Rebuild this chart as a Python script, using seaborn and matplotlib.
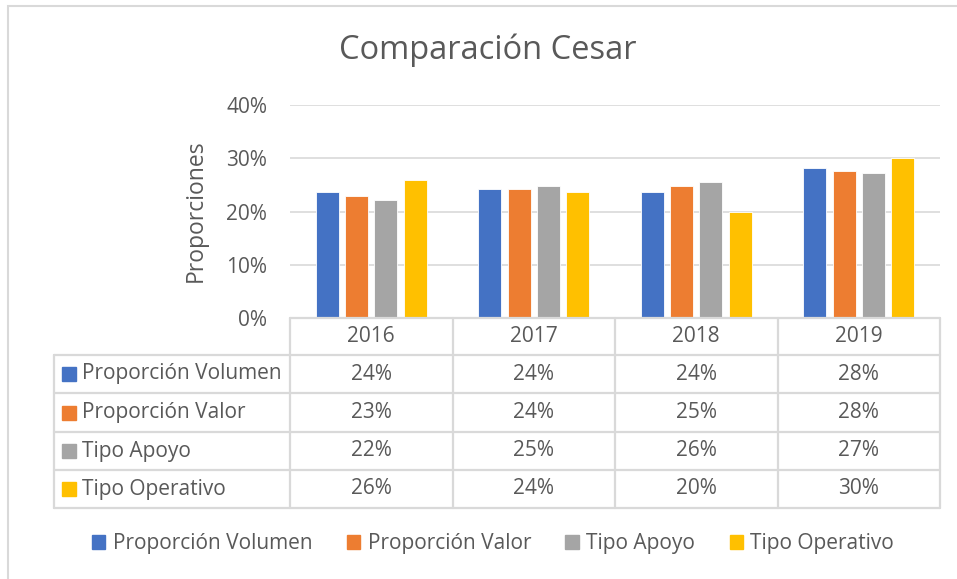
import matplotlib as mpl
import matplotlib.pyplot as plt
import matplotlib.patches as mpatches
import pandas as pd
import seaborn as sns

years = ["2016", "2017", "2018", "2019"]
series_names = ["Proporción Volumen", "Proporción Valor", "Tipo Apoyo", "Tipo Operativo"]
prop_volumen = [0.236, 0.243, 0.236, 0.281]
prop_valor = [0.230, 0.243, 0.247, 0.276]
tipo_apoyo = [0.221, 0.248, 0.256, 0.272]
tipo_operativo = [0.260, 0.236, 0.199, 0.301]
y_ticks = [0.0, 0.1, 0.2, 0.3, 0.4]

colors = ["#4472C4", "#ED7D31", "#A5A5A5", "#FFC000"]
text_color = "#595959"
line_color = "#D9D9D9"


def main():
    sns.set_style("white")
    plt.rcParams["font.family"] = ["Open Sans", "DejaVu Sans"]

    all_values = [prop_volumen, prop_valor, tipo_apoyo, tipo_operativo]
    df = pd.DataFrame({
        "year": years * len(series_names),
        "series": [s for s in series_names for _ in years],
        "value": [v for vals in all_values for v in vals],
    })

    W, H = 957, 579
    fig = plt.figure(figsize=(W / 100, H / 100), dpi=100)

    def fx(px):
        return px / W

    def fy(py):
        return 1 - py / H

    # outer chart border
    fig.add_artist(mpatches.Rectangle((fx(8), fy(640)), fx(1000), 634 / H, transform=fig.transFigure,
                                      fill=False, edgecolor=line_color, linewidth=1.5))

    # bar plot area
    ax = fig.add_axes([fx(290), fy(318), fx(940 - 290), (318 - 105) / H])
    sns.barplot(data=df, x="year", y="value", hue="series", palette=colors, ax=ax, saturation=1,
                width=0.72, gap=0.21, legend=False, edgecolor="white", linewidth=0.6)
    ax.set_ylim(0, 0.4)
    ax.set_xlim(-0.5, 3.5)
    ax.set_yticks(y_ticks)
    ax.set_yticklabels([f"{int(round(t * 100))}%" for t in y_ticks], fontsize=15, color=text_color)
    ax.set_xticks([])
    ax.set_xlabel("")
    ax.set_ylabel("")
    ax.tick_params(axis="y", length=0, pad=16.5)
    ax.grid(axis="y", color=line_color, linewidth=1.2)
    ax.set_axisbelow(True)
    for spine in ax.spines.values():
        spine.set_visible(False)

    fig.text(fx(196), fy(211), "Proporciones", rotation=90, ha="center", va="center",
             fontsize=16.5, color=text_color)
    fig.text(fx(488), fy(50), "Comparación Cesar", ha="center", va="center",
             fontsize=23.5, color=text_color)

    # data table below the axis
    tab = fig.add_axes([0, 0, 1, 1])
    tab.set_xlim(0, W)
    tab.set_ylim(H, 0)
    tab.axis("off")
    col_edges = [290, 452.5, 615, 777.5, 940]
    row_edges = [318, 355, 393, 432, 470, 508]
    lw = 1.6
    for x in col_edges:
        tab.plot([x, x], [row_edges[0], row_edges[-1]], color=line_color, lw=lw)
    tab.plot([54, 54], [row_edges[1], row_edges[-1]], color=line_color, lw=lw)
    tab.plot([290, 940], [row_edges[0], row_edges[0]], color=line_color, lw=lw)
    for y in row_edges[1:]:
        tab.plot([54, 940], [y, y], color=line_color, lw=lw)

    for j, yr in enumerate(years):
        cx = (col_edges[j] + col_edges[j + 1]) / 2
        tab.text(cx, (row_edges[0] + row_edges[1]) / 2, yr, ha="center", va="center",
                 fontsize=15, color=text_color)
    for i, (name, vals) in enumerate(zip(series_names, all_values)):
        cy = (row_edges[i + 1] + row_edges[i + 2]) / 2
        tab.add_patch(mpatches.Rectangle((62, cy - 7), 14, 14, color=colors[i]))
        tab.text(82, cy, name, ha="left", va="center", fontsize=15, color=text_color)
        for j, v in enumerate(vals):
            cx = (col_edges[j] + col_edges[j + 1]) / 2
            tab.text(cx, cy, f"{v:.0%}", ha="center", va="center", fontsize=15, color=text_color)

    handles = [mpatches.Patch(color=c, label=n) for c, n in zip(colors, series_names)]
    fig.legend(handles=handles, loc="center", bbox_to_anchor=(fx(493), fy(544)), ncol=4,
               frameon=False, fontsize=15, labelcolor=text_color, handlelength=0.65,
               handleheight=0.65, handletextpad=0.35, columnspacing=1.65)

    fig.savefig("out.png", dpi=100)


if __name__ == "__main__":
    main()
